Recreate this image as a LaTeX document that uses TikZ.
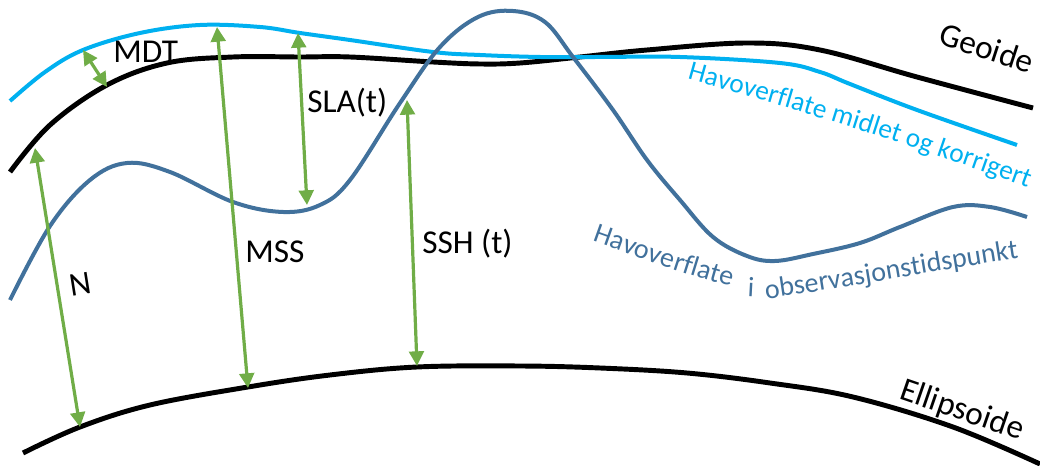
\documentclass[tikz,border=0pt]{standalone}
\usepackage{fontspec}
\setmainfont{Carlito}
\usetikzlibrary{arrows.meta,decorations.text}
\definecolor{seaLight}{HTML}{00B0F0}
\definecolor{seaDark}{HTML}{41719C}
\definecolor{arrowGreen}{HTML}{70AD47}
\begin{document}
\begin{tikzpicture}[x=0.75pt,y=-0.75pt,
  blackcurve/.style={line width=3.7pt,black},
  lightcurve/.style={line width=3pt,seaLight},
  darkcurve/.style={line width=3pt,seaDark},
  measure/.style={line width=2.4pt,arrowGreen,{Triangle[length=11pt,width=11pt]}-{Triangle[length=11pt,width=11pt]}},
  lbl/.style={font=\fontsize{25}{30}\selectfont,inner sep=0pt,text=black}]
\useasboundingbox (0,0) rectangle (1040,466);
% Ellipsoide
\draw[blackcurve] plot[smooth,tension=0.6] coordinates {(23,453) (80,427) (150,405) (248,387) (330,375) (417,367) (520,366) (600,368) (687,373) (770,383) (853,397) (953,427) (1040,464)};
% Geoide
\draw[blackcurve] plot[smooth,tension=0.6] coordinates {(10,172) (50,125) (107,85) (167,63) (233,57) (300,57) (350,57) (433,62) (480,64) (520,63) (580,57) (647,50) (747,43) (820,50) (917,77) (1033,108)};
% mean sea surface
\draw[lightcurve] plot[smooth,tension=0.6] coordinates {(10,101) (45,72) (83,50) (140,33) (200,25) (260,27) (300,33) (350,40) (433,52) (480,55) (540,57) (600,57) (680,57) (780,63) (820,72) (850,84) (917,110) (1017,145)};
% instantaneous sea surface
\draw[darkcurve] plot[smooth,tension=0.6] coordinates {(10,300) (50,226) (90,180) (127,163) (170,172) (233,202) (283,212) (320,205) (350,180) (400,103) (440,47) (478,17) (513,11) (545,22) (573,57) (613,110) (647,160) (680,200) (713,237) (747,256) (775,261) (813,254) (860,243) (900,227) (953,207) (990,207) (1027,217)};
% arrow end points
\coordinate (mdtA) at (83,50);   \coordinate (mdtB) at (107,87);
\coordinate (nA) at (35,148);    \coordinate (nB) at (80,427);
\coordinate (mssA) at (217,27);  \coordinate (mssB) at (248,388);
\coordinate (slaA) at (298,33);  \coordinate (slaB) at (307,205);
\coordinate (sshA) at (407,100); \coordinate (sshB) at (417,366);
\draw[measure] (mdtA) -- (mdtB);
\draw[measure] (nA) -- (nB);
\draw[measure] (mssA) -- (mssB);
\draw[measure] (slaA) -- (slaB);
\draw[measure] (sshA) -- (sshB);
% labels
\node[lbl,anchor=base west] (lblMDT) at (113,63) {MDT};
\node[lbl,anchor=base west] (lblSLA) at (307,113) {SLA(t)};
\node[lbl,anchor=base west] (lblMSS) at (245,263) {MSS};
\node[lbl,anchor=base west] (lblSSH) at (422,254) {SSH (t)};
\node[lbl,rotate=9] (lblN) at (80,284) {N};
\node[lbl,rotate=-18] (lblGeo) at (987,48) {Geoide};
\node[lbl,rotate=-19] (lblEll) at (962,411) {Ellipsoide};
% curved labels
\path[decorate,decoration={text along path,text align=left,text color=seaLight,
  text={|\fontsize{20.5}{25}\selectfont|Havoverflate midlet og korrigert}}]
  (687,79) .. controls (780,105) and (900,140) .. (1045,194);
\path[decorate,decoration={text along path,text align=left,text color=seaDark,
  text={|\fontsize{21}{25}\selectfont|Havoverflate}}]
  (592,241) .. controls (640,258) and (690,277) .. (745,290);
\node[font=\fontsize{21}{25}\selectfont,text=seaDark,inner sep=0pt,rotate=-3] (lblI) at (751,287) {i};
\path[decorate,decoration={text along path,text align=left,text color=seaDark,
  text={|\fontsize{21}{25}\selectfont|observasjonstidspunkt}}]
  (766,299) .. controls (850,287) and (940,270) .. (1040,255);
\end{tikzpicture}
\end{document}
